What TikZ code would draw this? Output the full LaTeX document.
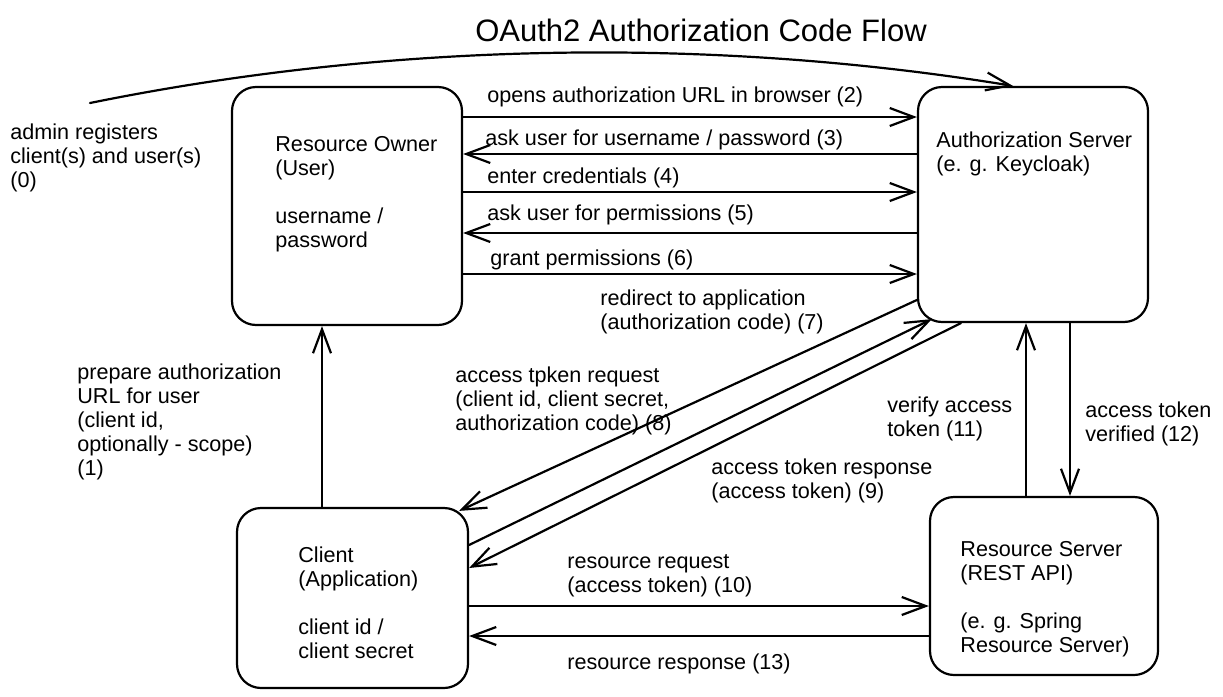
\documentclass[tikz,border=0pt]{standalone}
\usepackage{fontspec}
\setmainfont{Liberation Sans}
\usetikzlibrary{arrows.meta}
\begin{document}
\begin{tikzpicture}[x=0.5pt, y=-0.5pt,
    entity/.style={draw, rounded corners=12pt, line width=1.1pt, inner sep=0pt},
    flow/.style={line width=1.1pt, line cap=round, -{Straight Barb[length=12pt,width=9pt,line width=1.1pt]}},
    note/.style={anchor=north west, align=left, inner sep=0pt, font=\fontsize{10.8}{12}\selectfont}]
        \useasboundingbox (0,0) rectangle (1223,697);
        \node[font=\fontsize{15.5}{18}\selectfont] (title) at (701,30) {OAuth2 Authorization Code Flow};

        \node[entity, minimum width=115pt, minimum height=119pt] (owner) at (347,206) {};
        \node[entity, minimum width=115pt, minimum height=117.5pt] (auth) at (1033,204.5) {};
        \node[entity, minimum width=115.5pt, minimum height=90pt] (client) at (352.5,598) {};
        \node[entity, minimum width=114pt, minimum height=89pt] (rs) at (1044,586) {};

        \node[note] (ownertext) at (275,136) {Resource Owner\\(User)\\[12pt]username /\\password};
        \node[note] (authtext) at (936,131) {Authorization Server\\(e. g. Keycloak)};
        \node[note] (clienttext) at (298,546) {Client\\(Application)\\[12pt]client id /\\client secret};
        \node[note] (rstext) at (960,541) {Resource Server\\(REST API)\\[12pt](e. g. Spring\\Resource Server)};

        \node[note] (l0) at (10,123) {admin registers\\client(s) and user(s)\\(0)};
        \node[note] (l1) at (77,363) {prepare authorization\\URL for user\\(client id,\\optionally - scope)\\(1)};
        \node[note] (l2) at (487,86) {opens authorization URL in browser (2)};
        \node[note] (l3) at (485,129) {ask user for username / password (3)};
        \node[note] (l4) at (487,167) {enter credentials (4)};
        \node[note] (l5) at (487,204) {ask user for permissions (5)};
        \node[note] (l6) at (490,249) {grant permissions (6)};
        \node[note] (l7) at (600,289) {redirect to application\\(authorization code) (7)};
        \node[note] (l8) at (455,366) {access tpken request\\(client id, client secret,\\authorization code) (8)};
        \node[note] (l9) at (711,458) {access token response\\(access token) (9)};
        \node[note] (l10) at (567,554) {resource request\\(access token) (10)};
        \node[note] (l11) at (887,396) {verify access\\token (11)};
        \node[note] (l12) at (1085,401) {access token\\verified (12)};
        \node[note] (l13) at (567,653) {resource response (13)};

        \coordinate (admin) at (90,103);
        \draw[flow] (admin) .. controls (400,40) and (720,38) .. (auth.north -| 1013,0);
        \draw[flow] (client.north -| 322,0) -- (owner.south -| 322,0);
        \draw[flow] (owner.east |- 0,117) -- (auth.west |- 0,117);
        \draw[flow] (auth.west |- 0,154) -- (owner.east |- 0,154);
        \draw[flow] (owner.east |- 0,192) -- (auth.west |- 0,192);
        \draw[flow] (auth.west |- 0,233) -- (owner.east |- 0,233);
        \draw[flow] (owner.east |- 0,274) -- (auth.west |- 0,274);
        \draw[flow] (auth.west |- 0,300) -- ([xshift=-5pt,yshift=-2pt]client.north east);
        \draw[flow] (client.east |- 0,545) -- ([xshift=7.5pt,yshift=2pt]auth.south west);
        \draw[flow] ([xshift=22pt]auth.south west) -- (client.east |- 0,568);
        \draw[flow] (client.east |- 0,606) -- (rs.west |- 0,606);
        \draw[flow] (rs.west |- 0,636) -- (client.east |- 0,636);
        \draw[flow] (rs.north -| 1026,0) -- (auth.south -| 1026,0);
        \draw[flow] (auth.south -| 1070,0) -- (rs.north -| 1070,0);
    \end{tikzpicture}
\end{document}
